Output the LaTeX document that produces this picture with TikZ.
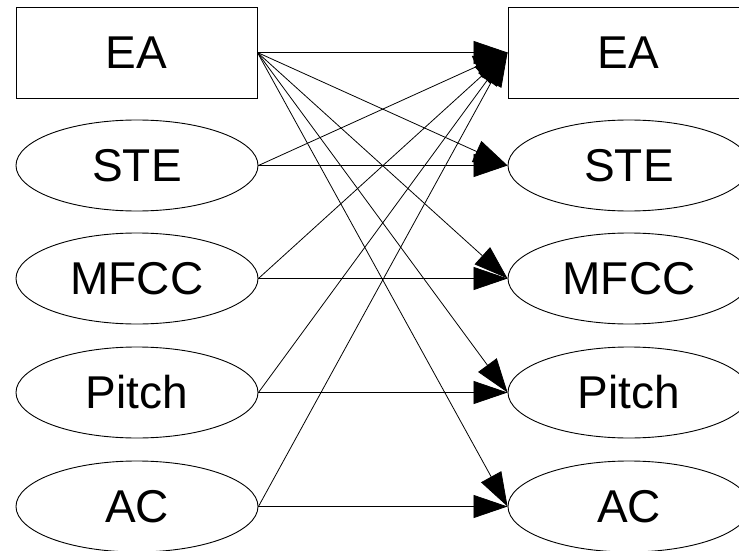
\documentclass[tikz,border=0pt]{standalone}
\usepackage{fontspec}
\setmainfont{Liberation Sans}
\usetikzlibrary{arrows.meta,shapes.geometric}
\begin{document}
\begin{tikzpicture}[x=1pt,y=-1pt,
  box/.style={draw,line width=0.9pt,minimum width=241pt,minimum height=91pt,inner sep=0pt,font=\fontsize{46}{46}\selectfont},
  oval/.style={draw,ellipse,line width=0.9pt,minimum width=242pt,minimum height=91pt,inner sep=0pt,font=\fontsize{46}{46}\selectfont},
  link/.style={line width=0.8pt,-{Triangle[length=34pt,width=23pt]}}]
\useasboundingbox (0,0) rectangle (739,551);
\begin{scope}
\clip (0,0) rectangle (739,551);
\node[box] (lea) at (136.5,52.5) {EA};
\node[oval] (lste) at (137,165.5) {STE};
\node[oval] (lmfcc) at (137,278.5) {MFCC};
\node[oval] (lpitch) at (137,392.5) {Pitch};
\node[oval] (lac) at (137,506.5) {AC};
\node[box] (rea) at (628.5,52.5) {EA};
\node[oval] (rste) at (629,165.5) {STE};
\node[oval] (rmfcc) at (629,278.5) {MFCC};
\node[oval] (rpitch) at (629,392.5) {Pitch};
\node[oval] (rac) at (629,506.5) {AC};
\end{scope}
\foreach \t in {rea,rste,rmfcc,rpitch,rac}
  \draw[link] (lea.east) -- (\t.west);
\foreach \s in {lste,lmfcc,lpitch,lac}
  \draw[link] (\s.east) -- (rea.west);
\draw[link] (lste.east) -- (rste.west);
\draw[link] (lmfcc.east) -- (rmfcc.west);
\draw[link] (lpitch.east) -- (rpitch.west);
\draw[link] (lac.east) -- (rac.west);
\end{tikzpicture}
\end{document}
